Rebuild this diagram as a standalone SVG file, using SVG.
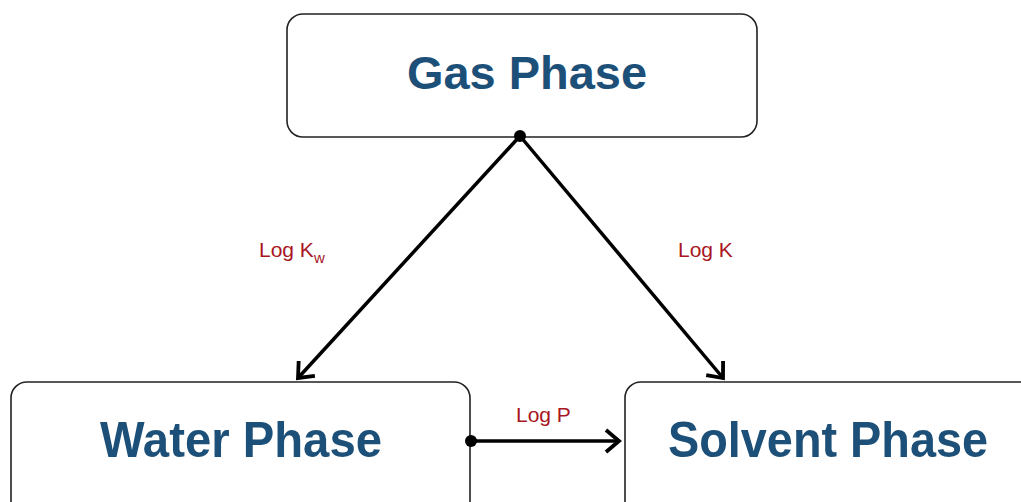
<svg xmlns="http://www.w3.org/2000/svg" width="1021" height="502" viewBox="0 0 1021 502">
<defs>
<style>
.box{fill:#fff;stroke:#222;stroke-width:1.6}
.title{font-family:"Liberation Sans",Arial,sans-serif;font-weight:bold;fill:#1d5078;text-anchor:middle}
.lbl{font-family:"Liberation Sans",Arial,sans-serif;fill:#a8161f;font-size:21px}
.conn{stroke:#000;stroke-width:3.5;fill:none}
</style>
<marker id="arr" viewBox="-20 -15 24 30" refX="0" refY="0" markerWidth="24" markerHeight="30" markerUnits="userSpaceOnUse" orient="auto">
<path d="M-13,-11 L0,0 L-13,11" fill="none" stroke="#000" stroke-width="3.8" stroke-linejoin="miter"/>
</marker>
</defs>
<rect width="1021" height="502" fill="#fff"/>
<g id="gas">
<rect class="box" x="287" y="14" width="470" height="123" rx="16"/>
<text class="title" x="527" y="89" font-size="46" textLength="240" lengthAdjust="spacingAndGlyphs">Gas Phase</text>
</g>
<g id="water">
<rect class="box" x="11" y="382" width="459" height="140" rx="16"/>
<text class="title" x="241" y="457" font-size="50" textLength="282" lengthAdjust="spacingAndGlyphs">Water Phase</text>
</g>
<g id="solvent">
<rect class="box" x="625" y="382" width="420" height="140" rx="16"/>
<text class="title" x="828" y="457" font-size="50" textLength="320" lengthAdjust="spacingAndGlyphs">Solvent Phase</text>
</g>
<g id="connectors">
<circle cx="520" cy="136" r="6" fill="#000"/>
<circle cx="471" cy="441" r="6" fill="#000"/>
<line class="conn" x1="520" y1="136" x2="298" y2="378" marker-end="url(#arr)"/>
<line class="conn" x1="520" y1="136" x2="723" y2="378" marker-end="url(#arr)"/>
<line class="conn" x1="471" y1="441" x2="619" y2="441" marker-end="url(#arr)"/>
<text class="lbl" x="259" y="257">Log K<tspan font-size="15" dy="6">w</tspan></text>
<text class="lbl" x="678" y="257">Log K</text>
<text class="lbl" x="516" y="422">Log P</text>
</g>
</svg>
